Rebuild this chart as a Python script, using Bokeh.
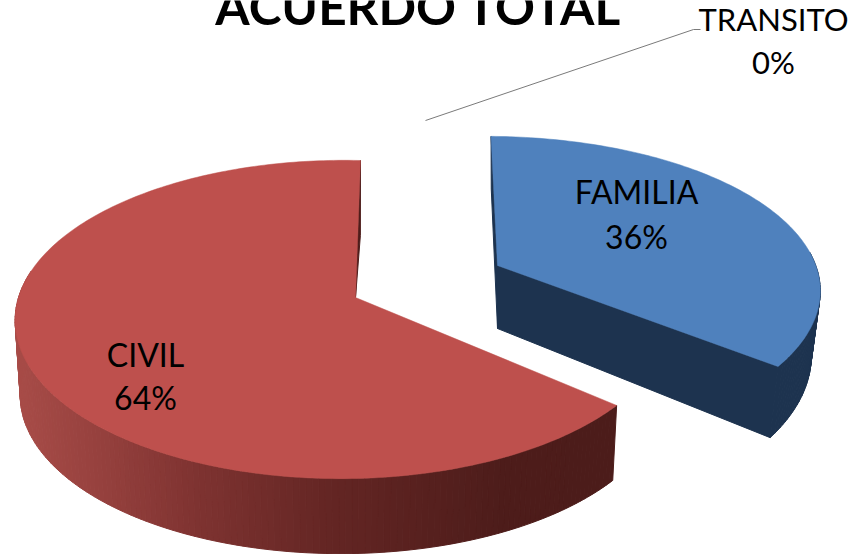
import numpy as np
from bokeh.plotting import figure
from bokeh.models import ColumnDataSource
from bokeh.core.properties import value
from bokeh.embed import file_html
from bokeh.resources import INLINE

categories = ["FAMILIA", "TRANSITO", "CIVIL"]
shares = [36, 0, 64]
title_text = "ACUERDO TOTAL"

Q = -0.04   # sideways perspective of the tilted disc
FONT = value("Lato")
W, H = 851, 554

p = figure(width=W, height=H, x_range=(0, W), y_range=(H, 0),
           toolbar_location=None, output_backend="svg", min_border=0)
p.axis.visible = False
p.grid.visible = False
p.outline_line_color = None


def project(theta, g):
    t = np.radians(theta)
    u, v = np.sin(t), -np.cos(t)
    den = 1 - g["p"] * v - Q * u
    return g["cx"] + g["a"] * u / den, g["cy"] + g["b"] * v / den


def lower(x, y, g):
    return g["cx"] + (x - g["cx"]) * g["kx"], g["cy"] + g["d0"] + (y - g["cy"]) * g["ky"]


geom = {
    "FAMILIA": dict(cx=497, cy=265, a=331, b=151, p=0.17, rot=-1.3, kx=0.972, ky=1.08, d0=63,
                    top="#4F81BD", wall=True, seam=0.1),
    "CIVIL": dict(cx=355, cy=297, a=323.5, b=156, p=0.138, rot=1.0, kx=0.985, ky=1.0, d0=75,
                  top="#BE504D", wall=False, seam=0.15),
}
side_stops_x = [15, 100, 190, 330, 500, 620, 830]
side_stops_rgb = {
    "CIVIL": [(168, 76, 72), (150, 65, 62), (128, 52, 50), (100, 38, 36), (78, 29, 27), (76, 28, 26), (76, 28, 26)],
    "FAMILIA": [(29, 51, 79)] * 7,
}

total = sum(shares)
start = 0.0
for name, share in zip(categories, shares):
    span = 360.0 * share / total
    if span == 0:
        continue
    g = geom[name]
    th0 = start + g["rot"]
    th1 = th0 + span
    start += span
    th = np.arange(th0, th1 + 0.01, 1.0)
    th[-1] = th1
    x, y = project(th, g)
    lx, ly = lower(x, y, g)
    ax, ay = lower(g["cx"], g["cy"], g)

    wall_col = "#1D334F" if g["wall"] else "#4E1D1B"
    # flat cut faces
    if g["wall"]:
        p.patch([x[0], lx[0], ax, g["cx"]], [y[0], ly[0], ay, g["cy"]],
                fill_color=wall_col, line_color=wall_col, line_width=1)
        p.patch([g["cx"], ax, lx[-1], x[-1]], [g["cy"], ay, ly[-1], y[-1]],
                fill_color=wall_col, line_color=wall_col, line_width=1)
    else:
        p.patch([x[-1], lx[-1], g["cx"]], [y[-1], ly[-1], g["cy"]],
                fill_color=wall_col, line_color=wall_col, line_width=1)

    # outer wall, in narrow strips, so that its shade can change along the rim
    xs, ys, cols = [], [], []
    rgb = np.array(side_stops_rgb[name], dtype=float)
    for i in range(len(th) - 1):
        if np.cos(np.radians(th[i])) > g["seam"]:
            continue
        xs.append([x[i], x[i + 1], lx[i + 1], lx[i]])
        ys.append([y[i], y[i + 1], ly[i + 1], ly[i]])
        xm = (x[i] + x[i + 1]) / 2
        c = [int(np.interp(xm, side_stops_x, rgb[:, k])) for k in range(3)]
        cols.append("#%02x%02x%02x" % tuple(c))
    src = ColumnDataSource(dict(xs=xs, ys=ys, c=cols))
    p.patches("xs", "ys", source=src, fill_color="c", line_color="c", line_width=1)

    # top face
    p.patch(np.r_[g["cx"], x], np.r_[g["cy"], y], fill_color=g["top"], line_color=g["top"], line_width=0.5)

# leader line of the empty slice
p.line([425, 693, 700], [120, 29, 29], line_color="#7a7a7a", line_width=1)


def label(px, py, txt, size, style="normal"):
    # the browser's text sits lower than the given anchor by about 0.41 of its size
    p.text([px], [py - 0.41 * size], text=[txt], text_font=FONT, text_font_size=f"{size}px",
           text_font_style=style, text_align="center", text_baseline="alphabetic", text_color="#000000")


label(418, 26, title_text, 49.5, "bold")
pos = {"FAMILIA": (636, 204, 249), "CIVIL": (145, 367, 410), "TRANSITO": (773, 31, 74)}
for name, share in zip(categories, shares):
    px, y1, y2 = pos[name]
    size = 31 if name == "TRANSITO" else 32
    label(px, y1, name, size)
    label(px, y2, f"{share}%", size)

open("out.html", "w").write(file_html(p, INLINE))
